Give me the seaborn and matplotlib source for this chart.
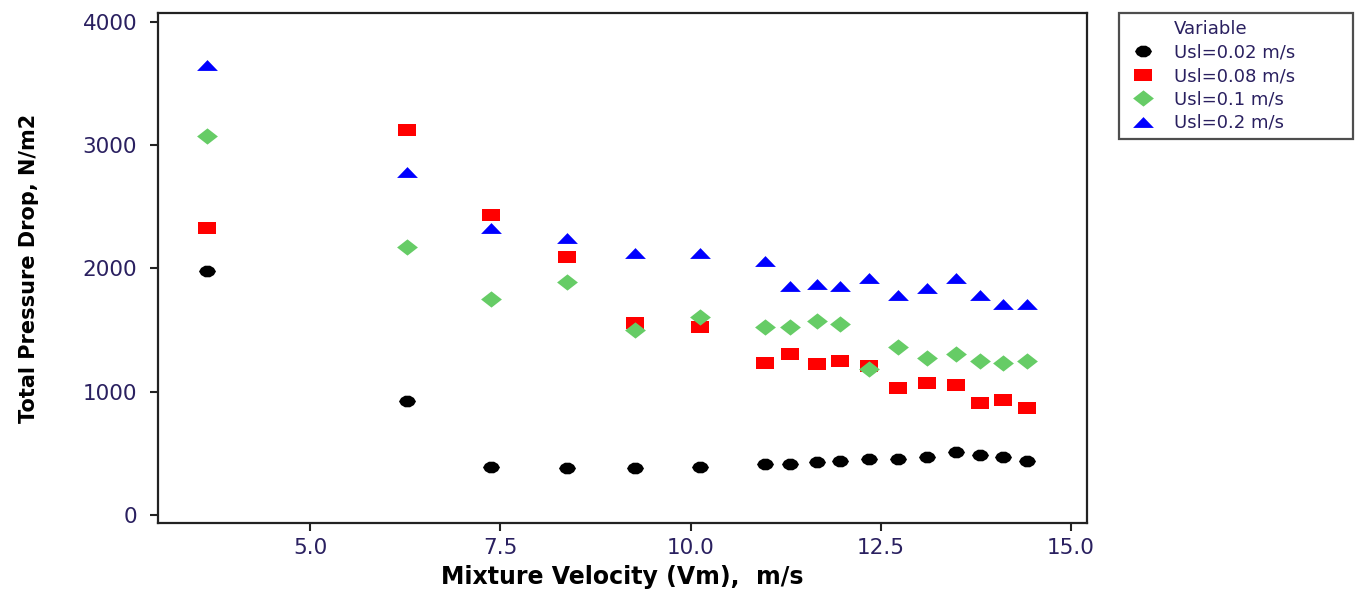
import matplotlib
matplotlib.use("Agg")
import matplotlib.pyplot as plt
from matplotlib.lines import Line2D
import seaborn as sns
import pandas as pd

# Mixture velocity (m/s) shared by every superficial liquid velocity series
vm = [3.65, 6.27, 7.37, 8.37, 9.27, 10.12, 10.98, 11.31, 11.66, 11.96,
      12.35, 12.73, 13.10, 13.49, 13.80, 14.11, 14.42]

# Total pressure drop (N/m2) per superficial liquid velocity
dp_002 = [1979, 927, 386, 378, 378, 392, 414, 414, 427, 438,
          454, 454, 473, 514, 487, 473, 441]
dp_008 = [2330, 3122, 2435, 2095, 1557, 1527, 1236, 1306, 1222, 1252,
          1208, 1033, 1068, 1054, 911, 933, 865]
dp_01 = [3076, 2171, 1752, 1887, 1500, 1608, 1522, 1522, 1576, 1546,
         1182, 1365, 1276, 1306, 1252, 1236, 1252]
dp_02 = [3652, 2782, 2328, 2246, 2125, 2125, 2060, 1861, 1877, 1861,
         1926, 1784, 1841, 1926, 1784, 1711, 1711]

labels = ["Usl=0.02 m/s", "Usl=0.08 m/s", "Usl=0.1 m/s", "Usl=0.2 m/s"]
x_ticks = [5.0, 7.5, 10.0, 12.5, 15.0]
y_ticks = [0, 1000, 2000, 3000, 4000]

frames = []
for lab, vals in zip(labels, [dp_002, dp_008, dp_01, dp_02]):
    frames.append(pd.DataFrame({"Vm": vm, "dP": vals, "Variable": lab}))
df = pd.concat(frames, ignore_index=True)

# Symbol shapes (slightly wide, like the low-resolution symbols of the plot)
blob = [(-1.0, 0.0), (-0.75, 0.42), (-0.3, 0.68), (0.3, 0.68), (0.75, 0.42),
        (1.0, 0.0), (0.75, -0.42), (0.3, -0.68), (-0.3, -0.68), (-0.75, -0.42)]
rect = [(-1.0, -0.72), (1.0, -0.72), (1.0, 0.72), (-1.0, 0.72)]
diamond = [(-1.0, 0.0), (0.0, 0.78), (1.0, 0.0), (0.0, -0.78)]
triangle = [(-1.0, -0.52), (1.0, -0.52), (0.0, 0.52)]

style = {
    "Usl=0.02 m/s": dict(marker=blob, s=150, color="#000000"),
    "Usl=0.08 m/s": dict(marker=rect, s=150, color="#ff0000"),
    "Usl=0.1 m/s": dict(marker=diamond, s=225, color="#66cc66"),
    "Usl=0.2 m/s": dict(marker=triangle, s=225, color="#0000ff"),
}

sns.set_style("white")
plt.rcParams["font.family"] = ["DejaVu Sans"]

fig = plt.figure(figsize=(13.6, 5.93), dpi=100)
ax = fig.add_axes([0.1162, 0.118, 0.6831, 0.860])

for lab in labels:
    sub = df[df["Variable"] == lab]
    st = style[lab]
    sns.scatterplot(data=sub, x="Vm", y="dP", marker=st["marker"], s=st["s"],
                    color=st["color"], linewidth=0, ax=ax, legend=False)

ax.set_xlim(3.0, 15.21)
ax.set_ylim(-65, 4071)
ax.set_xticks(x_ticks)
ax.set_xticklabels([f"{t:.1f}" for t in x_ticks])
ax.set_yticks(y_ticks)
ax.set_yticklabels([str(t) for t in y_ticks])

tick_color = "#2a2060"
ax.tick_params(axis="both", which="major", direction="out", length=6,
               width=1.5, color="#222222", labelsize=15.5, labelcolor=tick_color,
               bottom=True, left=True, top=False, right=False)
ax.tick_params(axis="y", pad=9)
ax.tick_params(axis="x", pad=5)
for sp in ax.spines.values():
    sp.set_visible(True)
    sp.set_color("#222222")
    sp.set_linewidth(1.6)
ax.grid(False)

ax.set_xlabel("Mixture Velocity (Vm),  m/s", fontsize=17, fontweight="bold",
              color="black")
ax.set_ylabel("Total Pressure Drop, N/m2", fontsize=15, fontweight="bold",
              color="black")
ax.xaxis.set_label_coords(0.5, -0.082)
ax.yaxis.set_label_coords(-0.128, 0.5)

# Legend: "Variable" heading aligned with the entry texts
handles = [Line2D([], [], linestyle="none", marker=None)]
names = ["Variable"]
for lab in labels:
    st = style[lab]
    handles.append(Line2D([], [], linestyle="none", marker=st["marker"],
                          markersize=st["s"] ** 0.5, markerfacecolor=st["color"],
                          markeredgewidth=0, color=st["color"]))
    names.append(lab)

leg = fig.legend(handles, names, loc="upper left",
                 bbox_to_anchor=(0.8228, 0.769, 0.1721, 0.209),
                 mode="expand", borderaxespad=0, fontsize=13,
                 frameon=True, fancybox=False, edgecolor="#222222",
                 handlelength=1.9, handletextpad=0.75, labelspacing=0.3,
                 borderpad=0.4)
leg.get_frame().set_linewidth(1.6)
for t in leg.get_texts():
    t.set_color(tick_color)

fig.savefig("out.png", dpi=100, facecolor="white")
